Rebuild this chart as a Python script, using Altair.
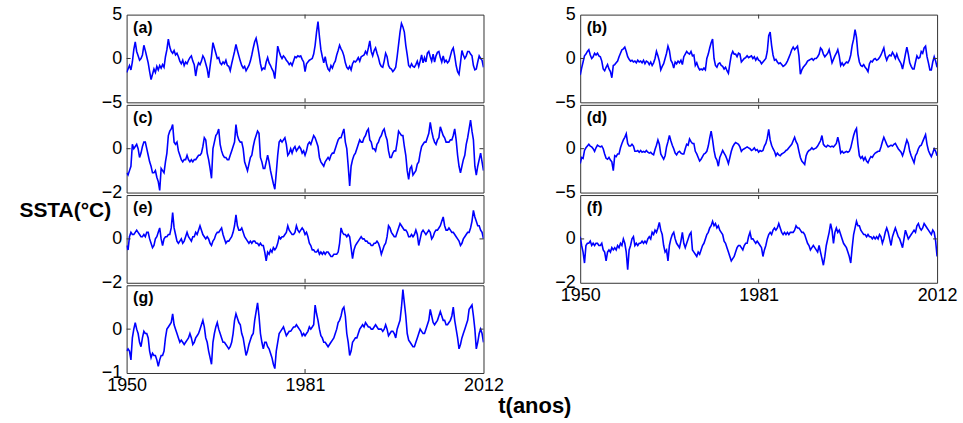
import altair as alt
import pandas as pd

FONT = "Liberation Sans"
BLUE = "#0000ff"
FRAME = "#333333"

# Quarterly SST anomalies (°C), 1950.00 ... 2012.00, four values per year
sst_a = [
    -1.6, -1.2, -0.8, -1.3,  -0.4, 1.0, 1.9, 0.8,  0.3, -0.2, 0.0, 0.4,  1.5, 0.9, 0.2, -0.5,
    -1.5, -2.4, -1.8, -1.2,  -1.6, -0.9, -1.3, -0.8,  -1.1, -0.7, -1.0, 0.2,  1.0, 2.2, 1.3, 0.8,
    0.6, 0.9, 0.4, 0.6,  0.2, -0.3, -0.6, -0.2,  -0.8, -0.4, -0.6, -0.2,  0.1, 0.3, -0.3, -0.7,
    -2.0, -1.0, -0.5, -0.7,  -0.3, 0.3, 0.0, -0.6,  -1.2, -2.2, -0.9, 0.3,  1.8, 1.2, 0.6, 0.0,
    0.1, -0.5, -0.7, -0.4,  -0.6, -0.2, -0.8, -0.9,  -1.4, -0.6, 0.1, 0.8,  1.6, 0.9, 0.3, -0.3,
    -0.8, -1.1, -0.9, -1.4,  -1.1, -0.8, -0.3, 0.4,  1.2, 1.9, 2.3, 1.5,  0.5, -0.6, -1.3, -1.1,
    -1.2, -0.4, 0.1, -0.5,  -0.8, -1.2, -1.5, -2.3,  -0.5, 1.4, 0.8, 0.3,  0.0, 0.3, 0.1, -0.2,
    -0.4, -0.7, -0.5, -0.8,  -0.3, 0.2, 0.1, 0.3,  0.2, 0.3, -0.1, -0.4,  -1.5, -0.6, -0.4, -0.2,
    -0.1, 0.0, 0.5, 1.5,  3.0, 4.2, 2.5, 1.0,  0.2, -0.5, 0.2, -0.7,  -1.2, -1.4, -0.8, -1.1,
    -0.6, -0.3, 0.4, 0.9,  1.5, 1.1, 0.8, 0.3,  -0.5, -1.0, -1.2, -0.9,  -1.3, -0.6, -0.3, -0.4,
    -0.2, 0.1, -0.3, 0.2,  0.3, 0.4, 0.8, 0.5,  1.2, 2.0, 0.8, 0.3,  0.9, 1.2, 0.6, 0.1,
    -0.6, -0.9, -1.0, -0.3,  0.6, 0.2, -0.8, -1.1,  -1.2, -1.5, -1.3, -1.0,  0.2, 1.6, 3.0, 4.0,
    3.6, 3.0, 1.5, 0.4,  -0.8, -1.0, -0.6, -0.9,  -1.0, -0.7, -0.3, -0.9,  -0.3, 0.4, -0.5, 0.1,
    -0.4, 0.6, 0.8, 0.2,  -0.3, 0.5, -0.4, 0.3,  0.7, 0.8, 0.1, -0.4,  0.3, -0.4, -0.2, -0.5,
    -0.3, 0.3, 0.9, 1.2,  0.3, -0.8, -1.5, -1.8,  -0.5, 0.9, 0.4, 0.0,  0.3, 0.8, 0.8, 0.5,
    0.3, -0.8, -1.3, -1.2,  -0.4, 0.3, 0.0, -0.2,
    -1.0,
]

sst_b = [
    -1.9, -1.1, -0.4, 0.3,  0.5, 0.8, 1.0, 0.4,  0.0, 0.2, 0.6, 0.4,  0.6, 0.3, 0.2, -0.3,
    -1.2, -1.4, -1.0, -0.7,  -1.2, -1.5, -2.2, -0.8,  -0.7, -0.5, -0.3, 0.2,  0.6, 1.0, 1.1, 1.3,
    0.8, 0.2, -0.1, -0.3,  -0.2, -0.4, -0.3, -0.5,  -0.2, -0.4, -0.3, -0.5,  -0.2, -0.6, -0.3, -0.4,
    -0.7, -0.4, -0.8, -0.5,  0.0, 0.8, 0.3, -0.3,  -1.3, -0.9, -0.6, 0.0,  0.6, 1.4, 0.9, -0.2,
    -0.5, -1.1, -0.4, -0.6,  -0.3, -0.5, -0.2, -0.7,  0.2, 0.5, 0.8, 0.6,  0.5, 0.8, 0.3, 0.4,
    -0.8, -0.5, -1.0, -1.3,  -1.2, -1.3, -1.1, -1.3,  0.0, 0.5, 1.2, 1.8,  2.2, 0.0, -0.8, -1.0,
    -0.6, -0.5, -0.8, -0.9,  -1.2, -1.0, -1.4, -1.7,  -0.6, 0.4, 0.8, 0.5,  0.5, 0.2, 0.6, 0.5,
    -0.4, -0.2, 0.0, 0.1,  0.3, 0.1, 0.2, 0.3,  0.0, 0.2, -0.2, 0.1,  -0.2, -0.3, -0.6, -0.4,
    -0.2, 0.0, 0.8, 2.6,  3.0, 1.5, 0.4, -0.2,  -0.1, -0.4, -0.6, -0.5,  -0.7, -0.9, -0.8, -0.6,
    -0.3, 0.1, 0.5, 1.0,  1.3, 1.0, 1.2, 1.4,  0.3, -1.8, -1.3, -1.0,  -0.8, -0.6, -0.3, -0.2,
    -0.1, 0.0, -0.2, 0.0,  0.0, 0.2, 0.5, 1.2,  1.0, 0.5, 0.2, 0.4,  0.6, 1.0, 0.3, -0.5,
    -0.1, 0.3, 0.6, 1.0,  0.3, -0.8, -0.5, -0.8,  -0.6, -0.4, -0.5, -0.2,  0.4, 1.5, 2.2, 3.3,
    2.4, 0.5, -0.4, -0.8,  -0.9, -0.7, -1.0, -1.2,  -1.5, -0.6, -0.3, -0.4,  -0.1, 0.0, -0.2, -0.1,
    0.1, 0.4, 0.8, 1.2,  0.3, -0.2, 0.2, 0.4,  0.3, 0.7, 0.4, 0.0,  0.5, 0.0, -0.3, -0.6,
    -1.2, -0.4, 0.5, 1.3,  0.5, -0.5, -0.9, -1.2,  -1.2, -0.4, 0.3, 0.0,  0.1, 0.8, 0.6, 1.2,
    1.4, 0.2, -0.5, -1.3,  -1.3, -0.4, 0.2, -0.3,
    -1.0,
]

sst_c = [
    -1.1, -1.2, -1.0, -0.8,  0.2, 0.0, 0.1, 0.2,  0.0, -0.4, -0.2, 0.1,  0.3, 0.3, 0.0, -0.3,
    -0.6, -0.8, -1.1, -1.1,  -1.0, -1.3, -1.5, -1.9,  -0.9, -1.0, -1.1, -0.6,  -0.2, 0.6, 0.8, 0.9,
    1.1, 0.3, 0.2, 0.3,  -0.1, -0.3, -0.5, -0.6,  -0.5, -0.5, -0.3, -0.5,  -0.6, -0.5, -0.6, -0.5,
    -0.5, -0.4, -0.3, -0.3,  -0.2, 0.1, 0.5, 0.4,  -0.2, -0.5, -0.9, -1.35,  0.0, 0.3, 0.6, 0.7,
    0.9, 0.2, -0.1, -0.3,  -0.4, -0.4, -0.5, -0.5,  -0.3, -0.1, 0.1, 0.3,  1.1, 0.6, 0.4, 0.3,
    0.3, 0.0, -0.6, -0.8,  -1.0, -0.7, -0.4, -0.3,  0.1, 0.4, 0.6, 0.8,  0.7, -0.4, -0.6, -0.9,
    -0.9, -0.6, -0.3, -0.6,  -1.0, -1.3, -1.6, -1.85,  -1.1, -0.3, 0.3, 0.4,  0.3, 0.4, 0.5, 0.2,
    -0.3, -0.2, 0.0, -0.2,  0.0, 0.1, -0.1, 0.0,  0.1, 0.0, -0.2, -0.1,  -0.3, -0.1, 0.2, 0.3,
    0.2, 0.4, 0.6, 0.5,  0.3, 0.1, -0.4, -0.6,  -0.7, -0.8, -0.6, -0.5,  -0.4, -0.5, -0.3, -0.2,
    -0.2, 0.0, 0.2, 0.4,  0.5, 0.5, 0.7, 0.9,  0.3, 0.0, -0.8, -1.7,  -0.8, -0.5, -0.3, -0.2,
    0.0, 0.2, 0.4, 0.3,  0.3, 0.5, 0.6, 0.8,  0.9, 0.4, 0.3, 0.0,  0.0, -0.1, 0.2, 0.3,
    0.5, 0.6, 0.8, 0.9,  0.6, 0.4, -0.1, -0.4,  -0.4, -0.2, -0.1, -0.1,  0.3, 0.8, 0.7, 0.6,
    0.6, 0.1, -0.3, -1.0,  -1.4, -0.9, -0.8, -1.2,  -1.1, -1.0, -0.7, -0.6,  -0.2, 0.1, 0.2, 0.3,
    0.3, 0.5, 0.7, 1.2,  0.8, 0.5, 0.3, 0.2,  0.4, 0.5, 1.0, 0.8,  0.6, 0.5, 0.3, 0.3,
    0.3, 0.4, 0.4, 0.6,  0.9, 0.4, -0.3, -0.8,  -1.1, -0.8, -0.5, -0.3,  0.2, 0.5, 0.9, 1.3,
    0.8, 0.4, -0.8, -1.2,  -0.8, -0.5, -0.2, -0.6,
    -1.0,
]

sst_d = [
    -1.7, -1.0, -1.1, -0.2,  0.1, 0.3, 0.5, 0.3,  0.2, 0.0, -0.3, 0.1,  0.4, 0.3, 0.2, 0.3,
    0.0, -0.6, -1.1, -1.2,  -1.0, -1.3, -1.5, -2.5,  -0.8, -0.9, -0.6, -0.6,  0.1, 0.6, 1.0, 1.3,
    1.7, 0.6, 0.3, 0.3,  0.5, 0.3, -0.3, -0.3,  -0.2, -0.4, -0.2, -0.4,  -0.3, -0.4, -0.2, -0.4,
    -0.5, -0.4, -0.6, -0.7,  -0.1, 0.4, 1.0, 0.5,  -0.6, -0.9, -1.2, -0.8,  0.2, 0.8, 1.5, 0.9,
    0.4, 0.0, -0.5, -0.7,  -0.4, -0.3, -0.5, -0.6,  -0.6, 0.0, 0.5, 0.4,  1.1, 0.8, 0.6, 0.6,
    -0.3, -0.6, -1.0, -1.4,  -1.2, -0.9, -0.6, -0.5,  -0.3, 0.3, 1.2, 2.0,  1.0, -0.2, -1.0, -1.3,
    -2.0, -1.0, -0.6, -0.2,  -0.5, -0.8, -1.2, -1.7,  -1.0, -0.3, 0.2, 0.5,  0.7, 0.6, 0.5, 0.2,
    -0.3, -0.1, 0.0, 0.1,  0.2, 0.1, 0.0, -0.2,  -0.1, 0.1, -0.2, -0.1,  -0.4, -0.2, -0.3, -0.2,
    0.3, 0.6, 1.2, 2.2,  1.0, 0.4, 0.0, -0.3,  -0.8, -0.5, -0.7, -0.8,  -0.6, -0.5, -0.4, -0.2,
    -0.1, 0.1, 0.3, 0.5,  0.9, 1.3, 0.8, 0.5,  -0.3, -1.0, -1.4, -1.6,  -1.8, -0.8, -0.4, -0.2,
    -0.1, 0.1, -0.1, 0.0,  0.1, 0.3, 0.6, 0.9,  1.5, 0.5, 0.3, 0.2,  0.4, 0.3, 0.2, 0.3,
    0.2, 0.4, 0.6, 1.3,  0.6, -0.5, -0.3, -0.5,  -0.4, -0.3, -0.4, -0.3,  0.1, 0.8, 1.5, 2.0,
    2.3, 0.5, -0.8, -1.1,  -0.9, -1.3, -1.0, -1.4,  -1.6, -1.2, -0.9, -1.0,  -0.7, -0.5, -0.4, -0.3,
    -0.3, 0.2, 0.8, 1.3,  0.9, 0.5, 0.2, 0.3,  0.4, 0.3, 0.5, 0.6,  0.3, 0.0, -0.2, -0.4,
    -0.8, -0.3, 0.4, 1.0,  0.6, -0.3, -0.8, -1.2,  -1.6, -0.8, -0.5, 0.0,  0.3, 0.4, 0.8, 1.2,
    1.6, 0.5, -0.2, -0.6,  -0.9, -0.5, 0.0, -0.3,
    -0.8,
]

sst_e = [
    -0.3, -0.5, 0.1, 0.3,  0.2, 0.2, 0.3, 0.4,  0.3, 0.2, 0.1, 0.1,  0.2, 0.1, 0.3, 0.3,
    0.0, -0.2, -0.4, -0.3,  0.0, 0.1, 0.3, 0.5,  0.0, -0.3, 0.0, 0.1,  0.1, 0.2, 0.2, 0.5,
    1.2, 0.5, 0.2, -0.1,  -0.2, -0.1, 0.0, -0.2,  -0.1, 0.1, 0.3, 0.1,  0.0, -0.1, 0.1, 0.1,
    0.3, 0.2, 0.4, 0.6,  0.4, 0.2, 0.1, 0.0,  0.1, 0.0, -0.2, -0.3,  -0.1, 0.0, 0.2, 0.3,
    0.3, 0.4, 0.5, 0.2,  0.0, -0.2, -0.1, -0.1,  0.0, 0.1, 0.3, 0.6,  1.1, 0.6, 0.4, 0.4,
    0.5, 0.3, 0.1, 0.0,  -0.1, -0.2, -0.1, -0.2,  -0.1, -0.1, -0.2, -0.2,  -0.3, -0.2, -0.3, -0.3,
    -0.6, -1.0, -0.6, -0.7,  -0.5, -0.6, -0.4, -0.5,  -0.4, -0.2, 0.1, 0.0,  0.1, 0.1, 0.2, 0.3,
    0.6, 0.4, 0.3, 0.2,  0.2, 0.3, 0.6, 0.4,  0.3, 0.4, 0.5, 0.4,  0.2, 0.3, 0.1, -0.2,
    -0.3, -0.5, -0.5, -0.6,  -0.6, -0.5, -0.7, -0.6,  -0.7, -0.6, -0.7, -0.6,  -0.6, -0.7, -0.8, -0.8,
    -0.7, -0.7, -0.7, -0.6,  -0.2, 0.5, 0.3, 0.2,  0.2, 0.1, 0.2, 0.1,  -0.4, -0.9, -0.5, -0.3,
    -0.2, -0.1, 0.0, 0.1,  0.0, 0.0, -0.1, -0.1,  -0.2, -0.2, -0.3, -0.3,  -0.2, -0.2, -0.1, -0.2,
    -0.4, -0.7, -0.5, -0.3,  -0.2, 0.1, 0.6, 0.5,  0.3, 0.2, 0.1, 0.1,  0.3, 0.5, 0.7, 0.6,
    0.5, 0.4, 0.4, 0.3,  0.1, 0.1, 0.2, 0.1,  0.2, 0.4, 0.2, -0.3,  0.0, 0.3, 0.4, 0.3,
    0.2, 0.3, 0.4, 0.3,  0.0, 0.1, 0.3, 0.4,  0.4, 0.5, 0.6, 0.8,  1.0, 0.6, 0.4, 0.4,
    0.5, 0.4, 0.3, 0.3,  0.2, 0.1, 0.0, -0.1,  -0.3, -0.2, 0.0, 0.1,  0.2, 0.3, 0.3, 0.5,
    0.8, 1.3, 1.0, 0.8,  0.6, 0.6, 0.4, 0.3,
    0.0,
]

sst_f = [
    0.1, -0.3, -0.6, -1.1,  -0.3, -0.2, -0.2, -0.1,  -0.3, -0.2, -0.3, -0.2,  -0.2, -0.3, -0.3, -0.2,
    -0.5, -0.6, -1.0, -0.6,  -0.5, -0.6, -0.4, -0.5,  -0.4, -0.5, -0.3, -0.4,  -0.2, -0.3, 0.0, -0.2,
    -0.6, -1.4, -0.5, -0.3,  0.0, 0.1, -0.3, -0.2,  -0.3, -0.2, -0.2, -0.1,  -0.2, -0.1, -0.2, 0.0,
    0.1, 0.0, 0.3, 0.2,  0.4, 0.3, 0.5, 0.75,  0.4, 0.2, -0.3, -0.6,  -0.5, -1.0, -0.3, 0.0,
    0.2, 0.3, 0.0, -0.2,  -0.3, -0.4, -0.1, 0.3,  -0.2, -0.4, -0.2, 0.0,  0.2, 0.3, -0.5, -0.6,
    -0.7, -0.8, -0.6, -0.7,  -0.5, -0.3, -0.2, 0.0,  0.2, 0.3, 0.5, 0.6,  0.8, 0.6, 0.7, 0.5,
    0.6, 0.4, 0.3, 0.2,  -0.1, -0.2, -0.4, -0.6,  -0.8, -1.0, -0.9, -0.8,  -0.6, -0.4, -0.3, -0.3,
    -0.4, -0.5, -0.3, -0.2,  -0.2, 0.1, 0.3, 0.0,  0.0, -0.1, -0.2, -0.1,  -0.2, -0.3, -0.4, -0.8,
    -0.5, -0.3, 0.0, 0.2,  0.3, 0.2, 0.4, 0.5,  0.4, 0.5, 0.7, 0.5,  0.3, 0.2, 0.3, 0.2,
    0.3, 0.2, 0.3, 0.3,  0.3, 0.4, 0.6, 0.5,  0.5, 0.4, 0.3, 0.3,  0.2, 0.0, -0.2, -0.3,
    -0.5, -0.4, -0.3, -0.4,  -0.5, -0.6, -0.3, -0.6,  -0.9, -1.2, -0.8, -0.3,  0.0, 0.3, 0.7, 0.4,
    -0.2, 0.3, 0.5, 0.3,  0.4, 0.2, 0.0, -0.2,  -0.3, -0.4, -0.6, -0.8,  -1.1, -0.4, 0.2, 0.5,
    0.8, 0.6, 0.6, 0.4,  0.3, 0.2, 0.2, 0.1,  0.2, 0.1, 0.1, 0.0,  0.1, 0.0, 0.1, 0.0,
    0.2, 0.1, -0.2, 0.0,  0.3, 0.5, 0.3, 0.0,  -0.3, 0.1, 0.3, 0.5,  0.3, 0.1, 0.0, -0.2,
    -0.4, 0.0, 0.4, 0.2,  0.0, 0.1, 0.2, 0.3,  0.4, 0.3, 0.6, 0.7,  0.5, 0.4, 0.5, 0.7,
    0.6, 0.5, 0.4, 0.3,  0.2, 0.4, 0.3, -0.1,
    -0.8,
]

sst_g = [
    -0.5, -0.45, -0.5, -0.7,  -0.2, 0.0, 0.15, 0.0,  -0.1, -0.3, -0.4, -0.2,  -0.05, -0.1, -0.1, -0.2,
    -0.5, -0.65, -0.55, -0.6,  -0.6, -0.7, -0.85, -0.7,  -0.6, -0.6, -0.5, -0.2,  0.0, 0.05, 0.1, 0.15,
    0.35, 0.1, 0.0, -0.1,  -0.2, -0.3, -0.25, -0.3,  -0.35, -0.3, -0.25, -0.2,  -0.1, -0.2, -0.35, -0.3,
    -0.2, -0.15, -0.1, 0.0,  0.1, 0.2, 0.05, -0.2,  -0.3, -0.5, -0.65, -0.8,  -0.3, -0.1, 0.05, 0.15,
    0.0, -0.1, -0.2, -0.3,  -0.3, -0.35, -0.4, -0.45,  -0.4, -0.3, -0.1, 0.2,  0.35, 0.25, 0.15, 0.1,
    -0.1, -0.2, -0.4, -0.6,  -0.5, -0.35, -0.25, -0.15,  -0.1, 0.2, 0.4, 0.6,  0.3, -0.1, -0.3, -0.45,
    -0.3, -0.3, -0.4, -0.45,  -0.55, -0.65, -0.8, -0.9,  -0.5, -0.3, -0.1, -0.05,  0.0, 0.05, -0.05, -0.15,
    -0.1, -0.05, -0.05, 0.0,  0.05, 0.05, 0.1, 0.05,  0.0, -0.05, -0.15, -0.1,  -0.15, -0.1, -0.05, 0.05,
    0.0, 0.05, 0.1, 0.55,  0.35, 0.2, 0.0, -0.15,  -0.2, -0.3, -0.3, -0.35,  -0.4, -0.35, -0.3, -0.25,
    -0.2, -0.1, 0.0, 0.15,  0.2, 0.3, 0.45, 0.5,  0.3, -0.1, -0.3, -0.6,  -0.5, -0.3, -0.25, -0.2,
    -0.2, -0.1, 0.0, 0.05,  0.1, 0.05, 0.15, 0.1,  0.05, 0.05, 0.0, 0.0,  0.05, 0.1, 0.05, 0.0,
    0.0, 0.0, -0.05, 0.0,  0.1, 0.0, -0.15, -0.1,  -0.05, -0.05, -0.1, -0.2,  0.0, 0.1, 0.2, 0.5,
    0.9, 0.6, 0.3, -0.1,  -0.25, -0.3, -0.35, -0.4,  -0.4, -0.3, -0.2, -0.1,  0.0, -0.05, -0.1, -0.1,
    0.0, 0.1, 0.2, 0.45,  0.3, 0.15, 0.1, 0.15,  0.2, 0.3, 0.4, 0.3,  0.2, 0.2, 0.1, 0.1,
    0.15, 0.2, 0.3, 0.5,  0.2, 0.0, -0.2, -0.45,  -0.35, -0.2, -0.1, 0.0,  0.1, 0.2, 0.45, 0.5,
    0.55, 0.3, 0.0, -0.45,  -0.3, -0.1, 0.0, -0.1,
    -0.3,
]

YEAR_TICKS = [1950, 1981, 2012]
W, H = 358, 88


def panel(values, tag, ydomain, ylabels, bottom=False, y_title=None, x_title=None):
    t = [1950 + 0.25 * i for i in range(len(values))]
    df = pd.DataFrame({"t": t, "v": values})

    if bottom:
        xkw = dict(values=YEAR_TICKS, format="d", ticks=False, domain=False, grid=False,
                   labelFlush=False, labelOverlap=False, labelPadding=4, labelFontSize=18)
        if x_title:
            xkw.update(title=x_title, titleFontSize=22, titleFontWeight="bold",
                       titleX=409, titleY=40, titleAlign="center", titleBaseline="alphabetic",
                       titleFont=FONT, titleColor="black")
        else:
            xkw.update(title=None)
        xaxis = alt.Axis(**xkw)
    else:
        xaxis = None

    ykw = dict(values=ylabels, ticks=False, domain=False, grid=False, labelOverlap=False,
               labelPadding=5, labelFontSize=18)
    if y_title:
        ykw.update(title=y_title, titleAngle=0, titleFontSize=21, titleFontWeight="bold",
                   titleX=-108, titleY=16, titleAlign="left", titleBaseline="middle",
                   titleFont=FONT, titleColor="black")
    else:
        ykw.update(title=None)

    x_enc = alt.X("t:Q", scale=alt.Scale(domain=[1950, 2012], nice=False, zero=False), axis=xaxis)
    y_enc = alt.Y("v:Q", scale=alt.Scale(domain=ydomain, nice=False, zero=False), axis=alt.Axis(**ykw))

    line = alt.Chart(df).mark_line(color=BLUE, strokeWidth=1.6, clip=True).encode(x=x_enc, y=y_enc)

    zero = pd.DataFrame({"v": [0]})
    tick_l = alt.Chart(zero).mark_rule(color=FRAME, strokeWidth=1).encode(
        y=y_enc, x=alt.value(0), x2=alt.value(4))
    tick_r = alt.Chart(zero).mark_rule(color=FRAME, strokeWidth=1).encode(
        y=y_enc, x=alt.value(W - 4), x2=alt.value(W))

    mid = pd.DataFrame({"t": [1981]})
    tick_t = alt.Chart(mid).mark_rule(color=FRAME, strokeWidth=1).encode(
        x=x_enc, y=alt.value(0), y2=alt.value(4))
    tick_b = alt.Chart(mid).mark_rule(color=FRAME, strokeWidth=1).encode(
        x=x_enc, y=alt.value(H - 4), y2=alt.value(H))

    label = alt.Chart(pd.DataFrame({"lab": [tag]})).mark_text(
        align="left", baseline="alphabetic", font=FONT, fontSize=16, fontWeight="bold", color="black"
    ).encode(x=alt.value(6.5), y=alt.value(18), text="lab:N")

    return alt.layer(line, tick_l, tick_r, tick_t, tick_b, label).properties(width=W, height=H)


pa = panel(sst_a, "(a)", [-5, 5], [-5, 0, 5])
pb = panel(sst_b, "(b)", [-5, 5], [-5, 0, 5])
pc = panel(sst_c, "(c)", [-2, 2], [-2, 0])
pd_ = panel(sst_d, "(d)", [-5, 5], [-5, 0])
pe = panel(sst_e, "(e)", [-2, 2], [-2, 0], y_title="SSTA(°C)")
pf = panel(sst_f, "(f)", [-2, 2], [-2, 0], bottom=True)
pg = panel(sst_g, "(g)", [-1, 1], [-1, 0], bottom=True, x_title="t(anos)")

# two-column grid: (a)(b) / (c)(d) / (e)(f) / (g)
chart = (
    alt.concat(pa, pb, pc, pd_, pe, pf, pg, columns=2, bounds="flush",
               spacing={"row": 2.5, "column": 97})
    .properties(padding={"left": 18, "top": 4, "right": 5, "bottom": 4}, background="white")
    .configure_view(stroke=FRAME, strokeWidth=1)
    .configure_axis(labelFont=FONT, labelColor="black", titleFont=FONT, titleColor="black")
)

chart.save("out.html", embed_options={"renderer": "svg", "actions": False})
